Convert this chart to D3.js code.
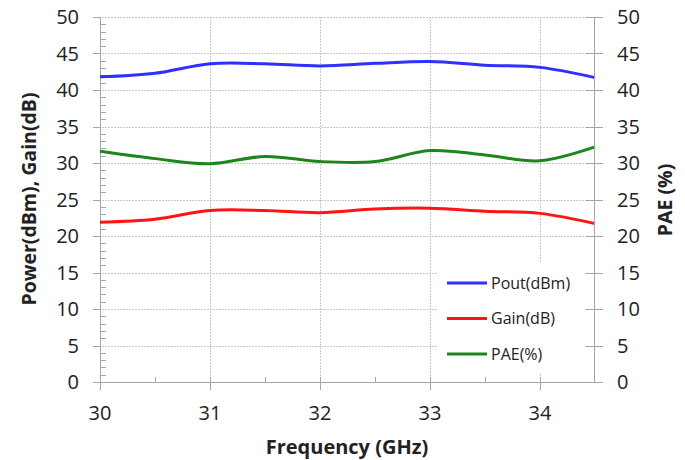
<!DOCTYPE html>
<html lang="en">
<head>
  <meta charset="UTF-8">
  <title>Power, Gain and PAE vs Frequency</title>
  <style>
    body { margin: 0; background: #fff; }
    text { font-family: "Open Sans", "Noto Sans", sans-serif; fill: #222; }
  </style>
</head>
<body>
  <script src="https://d3js.org/d3.v7.min.js"></script>
  <script>
    // values, every 0.5 GHz
    const freq = [30, 30.5, 31, 31.5, 32, 32.5, 33, 33.5, 34, 34.5]
    const pout = [41.8, 42.3, 43.6, 43.6, 43.3, 43.65, 43.9, 43.4, 43.1, 41.7]
    const gain = [21.9, 22.3, 23.5, 23.5, 23.2, 23.7, 23.8, 23.4, 23.1, 21.7]
    const pae = [31.6, 30.6, 29.9, 30.9, 30.2, 30.2, 31.7, 31.1, 30.3, 32.2]

    const seriesNames = ['Pout(dBm)', 'Gain(dB)', 'PAE(%)']
    const seriesColors = ['#2f2fff', '#ff1414', '#1c861c']
    const xTicks = [30, 31, 32, 33, 34]
    const xMinor = [30.5, 31.5, 32.5, 33.5]
    const yTicks = [0, 5, 10, 15, 20, 25, 30, 35, 40, 45, 50]

    const width = 685
    const height = 460
    const plotLeft = 100, plotRight = 595, plotTop = 17, plotBottom = 382

    const svg = d3.select('body')
      .append('svg')
      .attr('width', width)
      .attr('height', height)

    const x = d3.scaleLinear().domain([30, 34.5]).range([plotLeft, plotRight])
    const y = d3.scaleLinear().domain([0, 50]).range([plotBottom, plotTop])

    const gridColor = '#c8c8c8'
    const axisColor = '#a6a6a6'
    const px = v => Math.round(v) + 0.5

    // horizontal grid
    svg.append('g')
      .selectAll('line')
      .data(yTicks.filter(d => d > 0))
      .join('line')
      .attr('x1', plotLeft - 7)
      .attr('x2', plotRight)
      .attr('y1', d => px(y(d)))
      .attr('y2', d => px(y(d)))
      .attr('stroke', gridColor)
      .attr('stroke-dasharray', '2,1')

    // vertical grid
    svg.append('g')
      .selectAll('line')
      .data(xTicks.filter(d => d > 30))
      .join('line')
      .attr('x1', d => px(x(d)))
      .attr('x2', d => px(x(d)))
      .attr('y1', plotTop)
      .attr('y2', plotBottom)
      .attr('stroke', gridColor)
      .attr('stroke-dasharray', '2,1')

    // left axis, minor ticks inside
    const leftAxis = svg.append('g')
    leftAxis.append('line')
      .attr('x1', plotLeft + 0.5).attr('x2', plotLeft + 0.5)
      .attr('y1', plotTop).attr('y2', plotBottom)
      .attr('stroke', axisColor)
    leftAxis.selectAll('line.minor')
      .data(d3.range(1, 50).filter(d => d % 5 !== 0))
      .join('line')
      .attr('class', 'minor')
      .attr('x1', plotLeft).attr('x2', plotLeft + 6)
      .attr('y1', d => px(y(d)))
      .attr('y2', d => px(y(d)))
      .attr('stroke', axisColor)
    leftAxis.selectAll('line.major')
      .data(yTicks)
      .join('line')
      .attr('class', 'major')
      .attr('x1', plotLeft - 7).attr('x2', plotLeft)
      .attr('y1', d => px(y(d)))
      .attr('y2', d => px(y(d)))
      .attr('stroke', axisColor)
    leftAxis.selectAll('text')
      .data(yTicks)
      .join('text')
      .attr('x', 79)
      .attr('y', d => y(d))
      .attr('dy', '0.35em')
      .attr('text-anchor', 'end')
      .attr('font-size', 20)
      .text(d => d)

    // bottom axis
    const bottomAxis = svg.append('g')
    bottomAxis.append('line')
      .attr('x1', plotLeft).attr('x2', plotRight)
      .attr('y1', plotBottom + 0.5).attr('y2', plotBottom + 0.5)
      .attr('stroke', axisColor)
    bottomAxis.selectAll('line.major')
      .data(xTicks)
      .join('line')
      .attr('class', 'major')
      .attr('x1', d => px(x(d)))
      .attr('x2', d => px(x(d)))
      .attr('y1', plotBottom - 5).attr('y2', plotBottom + 8)
      .attr('stroke', axisColor)
    bottomAxis.selectAll('line.minor')
      .data(xMinor)
      .join('line')
      .attr('class', 'minor')
      .attr('x1', d => px(x(d)))
      .attr('x2', d => px(x(d)))
      .attr('y1', plotBottom - 5).attr('y2', plotBottom)
      .attr('stroke', axisColor)
    bottomAxis.selectAll('text')
      .data(xTicks)
      .join('text')
      .attr('x', d => x(d))
      .attr('y', 420)
      .attr('text-anchor', 'middle')
      .attr('font-size', 20)
      .text(d => d)

    // series
    const line = d3.line()
      .x((d, i) => x(freq[i]))
      .y(d => y(d))
      .curve(d3.curveCatmullRom.alpha(0.5))

    svg.append('g')
      .selectAll('path')
      .data([pout, gain, pae])
      .join('path')
      .attr('d', line)
      .attr('fill', 'none')
      .attr('stroke', (d, i) => seriesColors[i])
      .attr('stroke-width', 3)

    // legend
    const legend = svg.append('g')
    legend.append('rect')
      .attr('x', 438).attr('y', 263)
      .attr('width', 147).attr('height', 110)
      .attr('fill', '#fff')
    const item = legend.selectAll('g')
      .data(seriesNames)
      .join('g')
      .attr('transform', (d, i) => `translate(447, ${283 + i * 35.5})`)
    item.append('line')
      .attr('x1', 0).attr('x2', 40)
      .attr('stroke', (d, i) => seriesColors[i])
      .attr('stroke-width', 3)
    item.append('text')
      .attr('x', 44)
      .attr('dy', '0.35em')
      .attr('font-size', 16)
      .text(d => d)

    // right axis (PAE) drawn on top of legend box
    const rightAxis = svg.append('g')
    rightAxis.append('line')
      .attr('x1', plotRight - 0.5).attr('x2', plotRight - 0.5)
      .attr('y1', plotTop).attr('y2', plotBottom)
      .attr('stroke', axisColor)
    rightAxis.selectAll('line.major')
      .data(yTicks)
      .join('line')
      .attr('class', 'major')
      .attr('x1', plotRight - 9).attr('x2', plotRight + 8)
      .attr('y1', d => px(y(d)))
      .attr('y2', d => px(y(d)))
      .attr('stroke', axisColor)
    rightAxis.selectAll('text')
      .data(yTicks)
      .join('text')
      .attr('x', 617)
      .attr('y', d => y(d))
      .attr('dy', '0.35em')
      .attr('font-size', 20)
      .text(d => d)

    // titles
    svg.append('text')
      .attr('transform', 'translate(36, 199) rotate(-90)')
      .attr('text-anchor', 'middle')
      .attr('font-size', 19.5)
      .attr('font-weight', 'bold')
      .text('Power(dBm), Gain(dB)')

    svg.append('text')
      .attr('transform', 'translate(672, 200) rotate(-90)')
      .attr('text-anchor', 'middle')
      .attr('font-size', 19.5)
      .attr('font-weight', 'bold')
      .text('PAE (%)')

    svg.append('text')
      .attr('x', 347)
      .attr('y', 454)
      .attr('text-anchor', 'middle')
      .attr('font-size', 20)
      .attr('font-weight', 'bold')
      .text('Frequency (GHz)')
  </script>
</body>
</html>
